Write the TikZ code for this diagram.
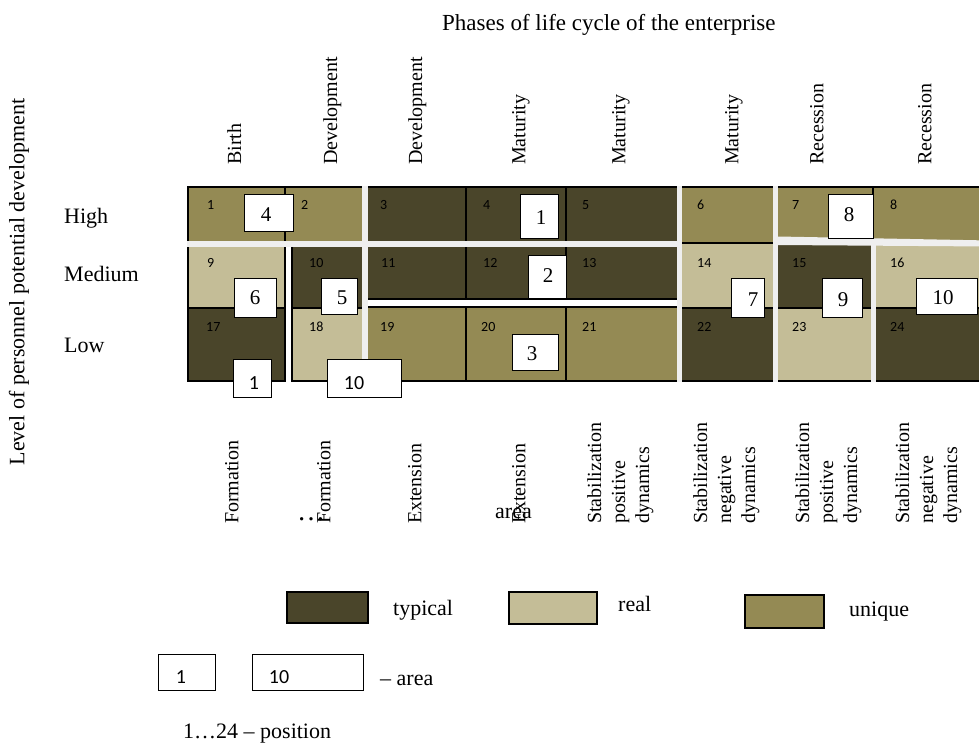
\documentclass[tikz,border=0pt]{standalone}
\usepackage{fontspec}
\setmainfont{Liberation Serif}
\newfontfamily\sansf{Carlito}
\definecolor{ctyp}{HTML}{4A452A}
\definecolor{creal}{HTML}{C4BD97}
\definecolor{cuni}{HTML}{948A54}
\definecolor{cgap}{HTML}{EFEFEF}
\begin{document}
\begin{tikzpicture}[x=1pt,y=-1pt,
  cell/.style={draw=black, line width=1.1pt},
  typ/.style={cell, fill=ctyp},
  rea/.style={cell, fill=creal},
  uni/.style={cell, fill=cuni},
  gapfill/.style={fill=cgap},
  abox/.style={draw=black, line width=0.9pt, fill=white},
  cno/.style={anchor=west, inner sep=0pt, font=\sansf\fontsize{14}{16}\selectfont},
  anum/.style={inner sep=0pt, font=\fontsize{21}{24}\selectfont},
  snum/.style={inner sep=0pt, font=\sansf\fontsize{20}{24}\selectfont},
  txt/.style={anchor=base west, inner sep=0pt, font=\fontsize{22}{26}\selectfont},
  phase/.style={rotate=90, anchor=north west, inner sep=0pt, font=\fontsize{20}{24}\selectfont, align=left},
  lbox/.style={draw=black, line width=1.1pt}]
\useasboundingbox (0,0) rectangle (979,745);
\fill[white] (0,0) rectangle (979,745);

% title and axis labels
\node[txt, font=\fontsize{23}{27}\selectfont] (title) at (442,30) {Phases of life cycle of the enterprise};
\node[rotate=90, inner sep=0pt, font=\fontsize{22}{26}\selectfont] (lvl) at (19,282) {Level of personnel potential development};
\node[txt] (high) at (64,223) {High};
\node[txt] (medium) at (64,281) {Medium};
\node[txt] (low) at (64,352) {Low};

% phase headers
\node[phase] (h1) at (227,165) {Birth};
\node[phase] (h2) at (323,165) {Development};
\node[phase] (h3) at (408,165) {Development};
\node[phase] (h4) at (512,165) {Maturity};
\node[phase] (h5) at (612,165) {Maturity};
\node[phase] (h6) at (725,165) {Maturity};
\node[phase] (h7) at (810,165) {Recession};
\node[phase] (h8) at (918,165) {Recession};

% row 1
\draw[uni] (188,187) rectangle (285,244);
\draw[uni] (285,187) rectangle (365,244);
\draw[typ] (365,187) rectangle (466,244);
\draw[typ] (466,187) rectangle (566,244);
\draw[typ] (566,187) rectangle (680,244);
\draw[uni] (680,187) rectangle (775.5,243);
\draw[uni] (775.5,187) rectangle (873,243);
\draw[uni] (873,187) rectangle (990,243);
% row 2
\draw[rea] (188,244) rectangle (285,308);
\draw[typ] (292,244) rectangle (365,308);
\draw[typ] (365,244) rectangle (466,299);
\draw[typ] (466,244) rectangle (566,299);
\draw[typ] (566,244) rectangle (680,299);
\draw[rea] (680,243) rectangle (775.5,308);
\draw[typ] (775.5,243) rectangle (873.5,308);
\draw[rea] (873.5,243) rectangle (990,308);
% row 3
\draw[typ] (188,308) rectangle (285,381);
\draw[rea] (292,308) rectangle (365,381);
\draw[uni] (365,307) rectangle (466,381);
\draw[uni] (466,307) rectangle (566,381);
\draw[uni] (566,307) rectangle (680,381);
\draw[typ] (680,308) rectangle (775.5,381);
\draw[rea] (775.5,308) rectangle (873.5,381);
\draw[typ] (873.5,308) rectangle (990,381);

% light gaps
\fill[gapfill] (362,186.3) rectangle (368,381.7);
\fill[gapfill] (677,186.3) rectangle (682,381.7);
\fill[gapfill] (773,186.3) rectangle (778,381.7);
\fill[gapfill] (871,240.5) rectangle (876,381.7);
\fill[gapfill] (187.3,241) rectangle (677,247);
\fill[gapfill] (778,236.5) -- (990,240.5) -- (990,246.5) -- (778,245) -- cycle;

% position numbers
\foreach \n/\x/\y in {1/207/205,2/301/205,3/380/205,4/483/205,5/582/205,6/697/205,7/792/205,8/890/205,
  9/207/263,10/309/263,11/381/263,12/483/263,13/582/263,14/697/263,15/792/263,16/890/263,
  17/206/327,18/309/327,19/380/327,20/481/327,21/582/327,22/697/327,23/792/327,24/890/327}
  \node[cno] (p\n) at (\x,\y) {\n};

% area boxes
\draw[abox] (244,194) rectangle (293,231);
\node[anum] (a4) at (266,215) {4};
\draw[abox] (520,194) rectangle (558,238);
\node[anum] (a1) at (541,218) {1};
\draw[abox] (528,255) rectangle (566,298);
\node[anum] (a2) at (548,276) {2};
\draw[abox] (234,278) rectangle (276,317);
\node[anum] (a6) at (255,298) {6};
\draw[abox] (321,278) rectangle (357,314);
\node[anum] (a5) at (342,298) {5};
\draw[abox] (512,334) rectangle (558,370);
\node[anum] (a3) at (532,354) {3};
\draw[abox] (828,194) rectangle (873,238);
\node[anum] (a8) at (849,215) {8};
\draw[abox] (731,278) rectangle (764,317);
\node[anum] (a7) at (753,300) {7};
\draw[abox] (822,278) rectangle (862,317);
\node[anum] (a9) at (843,300) {9};
\draw[abox] (916,278) rectangle (977,314);
\node[anum] (a10r) at (943,298) {10};
\draw[abox] (233,359) rectangle (271,397);
\node[snum] (a1b) at (254,383) {1};
\draw[abox] (327,359) rectangle (401,397);
\node[snum] (a10b) at (354,383) {10};

% bottom labels
\node[phase] (b1) at (225,524) {Formation};
\node[phase] (b2) at (317,524) {Formation};
\node[phase] (b3) at (408,524) {Extension};
\node[phase] (b4) at (512,524) {Extension};
\node[phase] (b5) at (587,524) {Stabilization\\positive\\dynamics};
\node[phase] (b6) at (693,524) {Stabilization\\negative\\dynamics};
\node[phase] (b7) at (795,524) {Stabilization\\positive\\dynamics};
\node[phase] (b8) at (895,524) {Stabilization\\negative\\dynamics};
\node[txt, font=\fontsize{28}{30}\selectfont] (dots) at (297,520) {…};
\node[txt] (areaw) at (495,518) {area};

% legend
\draw[lbox, fill=ctyp] (287,592) rectangle (368,623);
\node[txt] (ltyp) at (393,615) {typical};
\draw[lbox, fill=creal] (509,592) rectangle (597,624);
\node[txt] (lreal) at (618,611) {real};
\draw[lbox, fill=cuni] (745,595) rectangle (824,628);
\node[txt] (luni) at (849,616) {unique};

\draw[abox] (158,654) rectangle (215,690);
\node[snum] (l1) at (181,677) {1};
\draw[abox] (252,654) rectangle (363,690);
\node[snum] (l10) at (279,677) {10};
\node[txt] (larea) at (380,685) {– area};
\node[txt] (lpos) at (183,738) {1…24 – position};
\end{tikzpicture}
\end{document}
